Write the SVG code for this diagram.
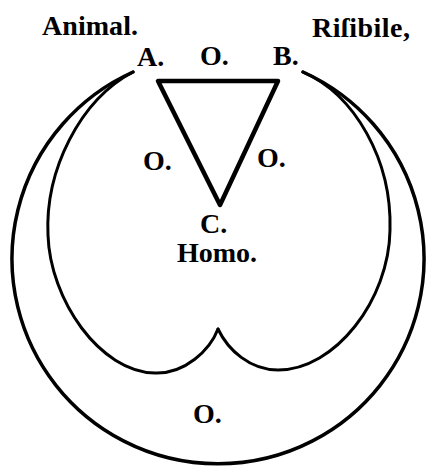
<svg xmlns="http://www.w3.org/2000/svg" width="430" height="466" viewBox="0 0 430 466">
  <style>
    .t { font-family: "Liberation Serif", "DejaVu Serif", serif; font-size: 28px; font-weight: bold; fill: #000; }
    .c { fill: none; stroke: #000; stroke-linecap: round; stroke-linejoin: round; }
  </style>
  <rect width="430" height="466" fill="#fff"/>
  <g id="labels">
    <text class="t" x="42" y="35" textLength="96">Animal.</text>
    <text class="t" x="312" y="37" textLength="98">Riſibile,</text>
  </g>
  <g id="nodeA"><text class="t" x="137" y="66">A.</text></g>
  <g id="nodeB"><text class="t" x="273" y="65">B.</text></g>
  <g id="nodeC">
    <text class="t" x="200" y="233">C.</text>
    <text class="t" x="177" y="262">Homo.</text>
  </g>
  <g id="zeros">
    <text class="t" x="200" y="65">O.</text>
    <text class="t" x="143" y="170">O.</text>
    <text class="t" x="257" y="167">O.</text>
    <text class="t" x="193" y="423">O.</text>
  </g>
  <g id="connectors">
    <path class="c" stroke-width="4.5" d="M158,81 L278,81 L220,205 Z"/>
    <path class="c" stroke-width="3.5" d="M133,72 A206,205 0 1 0 303,72"/>
    <path class="c" stroke-width="3" d="M133,72 C80,100 45,170 48,235 C50,300 100,372 155,373 C185,374 210,350 218,329"/>
    <path class="c" stroke-width="3" d="M303,72 C355,95 392,160 390,230 C389,300 335,370 278,370 C250,370 228,350 218,329"/>
  </g>
</svg>
